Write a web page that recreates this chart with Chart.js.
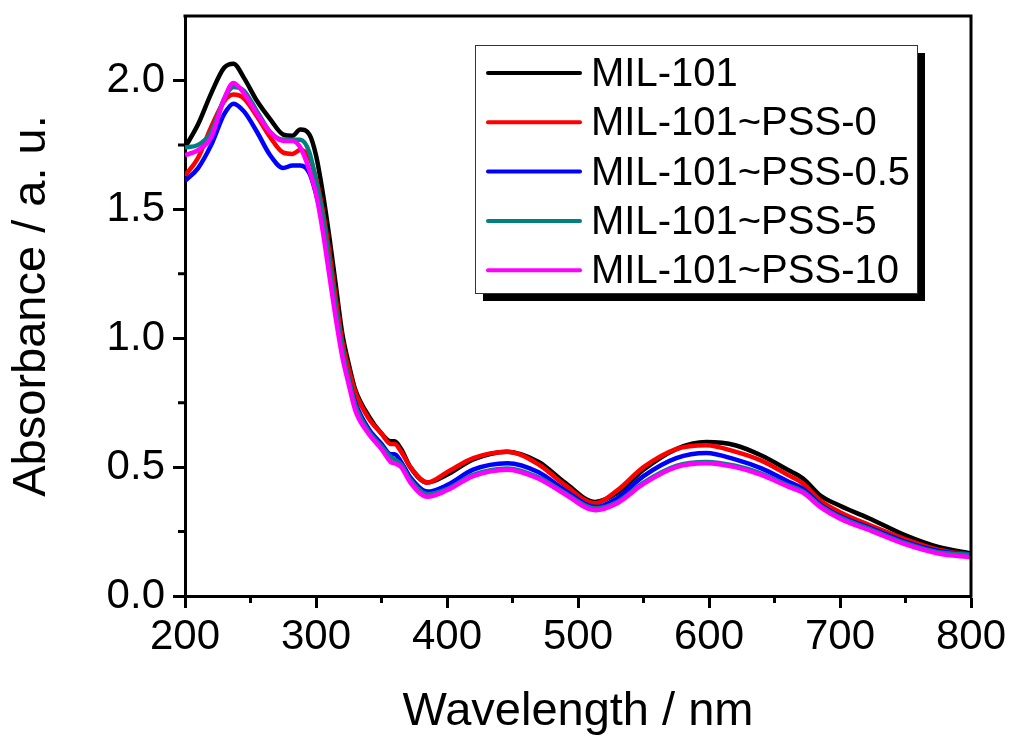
<!DOCTYPE html>
<html>
<head>
<meta charset="utf-8">
<script src="https://cdn.jsdelivr.net/npm/chart.js@4.4.0/dist/chart.umd.min.js"></script>
<style>
  body { margin: 0; background: #fff; }
  #wrap { width: 1013px; height: 736px; position: relative; }
</style>
</head>
<body>
<div id="wrap"><canvas id="uvChart"></canvas></div>
<script>
// wavelengths (nm) shared by every spectrum
const wavelengths = [200, 210, 220, 230, 237, 245, 255, 265, 275, 282, 288, 295, 300, 305, 310, 315, 320, 325, 330, 340, 350, 357, 360, 365, 372, 385, 400, 420, 446, 470, 490, 513, 530, 550, 575, 598, 620, 640, 660, 672, 685, 700, 725, 750, 775, 800]

// absorbance
const mil101 = [1.74, 1.83, 1.95, 2.05, 2.065, 2.01, 1.92, 1.85, 1.79, 1.785, 1.81, 1.79, 1.71, 1.57, 1.40, 1.21, 1.02, 0.90, 0.80, 0.70, 0.63, 0.60, 0.60, 0.57, 0.50, 0.44, 0.47, 0.53, 0.56, 0.52, 0.44, 0.365, 0.40, 0.49, 0.57, 0.597, 0.585, 0.545, 0.49, 0.455, 0.39, 0.35, 0.295, 0.235, 0.19, 0.165]
const pss0 = [1.63, 1.70, 1.82, 1.92, 1.945, 1.93, 1.86, 1.78, 1.72, 1.715, 1.73, 1.70, 1.62, 1.50, 1.34, 1.16, 0.99, 0.88, 0.79, 0.69, 0.63, 0.59, 0.59, 0.56, 0.50, 0.44, 0.48, 0.535, 0.56, 0.51, 0.43, 0.36, 0.41, 0.50, 0.57, 0.585, 0.56, 0.525, 0.47, 0.435, 0.37, 0.325, 0.27, 0.22, 0.18, 0.16]
const pss05 = [1.61, 1.66, 1.75, 1.87, 1.91, 1.88, 1.80, 1.71, 1.66, 1.67, 1.67, 1.64, 1.56, 1.45, 1.28, 1.10, 0.95, 0.84, 0.75, 0.65, 0.59, 0.55, 0.55, 0.52, 0.46, 0.405, 0.43, 0.49, 0.515, 0.48, 0.41, 0.345, 0.38, 0.465, 0.535, 0.555, 0.53, 0.495, 0.445, 0.415, 0.355, 0.31, 0.26, 0.21, 0.175, 0.16]
const pss5 = [1.74, 1.75, 1.80, 1.93, 1.975, 1.96, 1.88, 1.80, 1.77, 1.77, 1.77, 1.72, 1.61, 1.48, 1.30, 1.12, 0.96, 0.84, 0.74, 0.64, 0.58, 0.54, 0.53, 0.51, 0.45, 0.395, 0.415, 0.47, 0.495, 0.46, 0.40, 0.34, 0.365, 0.44, 0.505, 0.52, 0.505, 0.475, 0.43, 0.405, 0.35, 0.305, 0.255, 0.205, 0.17, 0.16]
const pss10 = [1.71, 1.73, 1.78, 1.93, 1.99, 1.95, 1.87, 1.80, 1.765, 1.765, 1.74, 1.65, 1.56, 1.42, 1.25, 1.08, 0.93, 0.82, 0.72, 0.63, 0.57, 0.52, 0.515, 0.50, 0.44, 0.385, 0.41, 0.465, 0.49, 0.455, 0.395, 0.333, 0.36, 0.435, 0.50, 0.515, 0.50, 0.47, 0.425, 0.40, 0.345, 0.30, 0.25, 0.20, 0.165, 0.15]

const seriesNames = ['MIL-101', 'MIL-101~PSS-0', 'MIL-101~PSS-0.5', 'MIL-101~PSS-5', 'MIL-101~PSS-10']
const seriesColors = ['#000000', '#ff0000', '#0000ff', '#008080', '#ff00ff']

const xTicks = [200, 300, 400, 500, 600, 700, 800]
const xMinor = [250, 350, 450, 550, 650, 750]
const yTicks = [0, 0.5, 1.0, 1.5, 2.0]
const yMinor = [0.25, 0.75, 1.25, 1.75]

const FONT = '"Liberation Sans", Arial, sans-serif'

function toPoints(vals) {
    return wavelengths.map((w, i) => ({ x: w, y: vals[i] }))
}

const allSeries = [mil101, pss0, pss05, pss5, pss10]

// frame (top/right) and minor ticks
const frameAndMinor = {
    id: 'frameAndMinor',
    afterDraw(chart) {
        const ctx = chart.ctx
        const a = chart.chartArea
        const xs = chart.scales.x
        const ys = chart.scales.y
        ctx.save()
        ctx.strokeStyle = '#000'
        ctx.lineWidth = 3
        ctx.beginPath()
        ctx.moveTo(a.left - 1.5, a.top)
        ctx.lineTo(a.right, a.top)
        ctx.lineTo(a.right, a.bottom + 1.5)
        ctx.stroke()
        ctx.beginPath()
        xMinor.forEach(v => {
            const px = xs.getPixelForValue(v)
            ctx.moveTo(px, a.bottom)
            ctx.lineTo(px, a.bottom + 7)
        })
        yMinor.forEach(v => {
            const py = ys.getPixelForValue(v)
            ctx.moveTo(a.left, py)
            ctx.lineTo(a.left - 7, py)
        })
        ctx.stroke()
        ctx.restore()
    }
}

// boxed legend with drop shadow inside the plot
const boxLegend = {
    id: 'boxLegend',
    afterDraw(chart) {
        const ctx = chart.ctx
        const bx = 475, by = 45, bw = 442, bh = 248
        ctx.save()
        ctx.fillStyle = '#000'
        ctx.fillRect(bx + 8, by + 8, bw, bh)
        ctx.fillStyle = '#fff'
        ctx.fillRect(bx, by, bw, bh)
        ctx.strokeStyle = '#333'
        ctx.lineWidth = 1
        ctx.strokeRect(bx + 0.5, by + 0.5, bw, bh)
        ctx.font = '40px ' + FONT
        ctx.textBaseline = 'middle'
        chart.data.datasets.forEach((ds, i) => {
            const cy = 73 + i * 49.3
            ctx.strokeStyle = ds.borderColor
            ctx.lineWidth = 4
            ctx.lineCap = 'round'
            ctx.beginPath()
            ctx.moveTo(488, cy)
            ctx.lineTo(580, cy)
            ctx.stroke()
            ctx.fillStyle = '#000'
            ctx.fillText(ds.label, 591, cy + 2)
        })
        ctx.restore()
    }
}

const chart = new Chart(document.getElementById('uvChart'), {
    type: 'line',
    data: {
        datasets: allSeries.map((vals, i) => ({
            label: seriesNames[i],
            data: toPoints(vals),
            borderColor: seriesColors[i],
            borderWidth: 4.5,
            pointRadius: 0,
            cubicInterpolationMode: 'monotone',
            fill: false,
            order: allSeries.length - i
        }))
    },
    options: {
        responsive: true,
        maintainAspectRatio: false,
        animation: false,
        layout: { padding: { top: 16, right: 42, left: 0, bottom: 0 } },
        plugins: {
            legend: { display: false },
            tooltip: { enabled: false }
        },
        scales: {
            x: {
                type: 'linear',
                min: 200,
                max: 800,
                afterBuildTicks: s => { s.ticks = xTicks.map(v => ({ value: v })) },
                afterFit: s => { s.height = 140; s.paddingLeft = 0; s.paddingRight = 0 },
                border: { display: true, color: '#000', width: 3 },
                grid: { drawOnChartArea: false, drawTicks: true, tickLength: 12, tickWidth: 3, tickColor: '#000' },
                ticks: { color: '#000', font: { family: FONT, size: 42 }, padding: 4, maxRotation: 0 },
                title: { display: true, text: 'Wavelength / nm', color: '#000', font: { family: FONT, size: 47 }, padding: { top: 0, bottom: -4 } }
            },
            y: {
                type: 'linear',
                min: 0,
                max: 2.25,
                afterBuildTicks: s => { s.ticks = yTicks.map(v => ({ value: v })) },
                afterFit: s => { s.width = 185; s.paddingTop = 0; s.paddingBottom = 0 },
                border: { display: true, color: '#000', width: 3 },
                grid: { drawOnChartArea: false, drawTicks: true, tickLength: 12, tickWidth: 3, tickColor: '#000' },
                ticks: { color: '#000', font: { family: FONT, size: 42 }, padding: 8, callback: v => v.toFixed(1) },
                title: { display: true, text: 'Absorbance / a. u.', color: '#000', font: { family: FONT, size: 47 }, padding: { top: 4, bottom: 8 } }
            }
        }
    },
    plugins: [frameAndMinor, boxLegend]
})
</script>
</body>
</html>
